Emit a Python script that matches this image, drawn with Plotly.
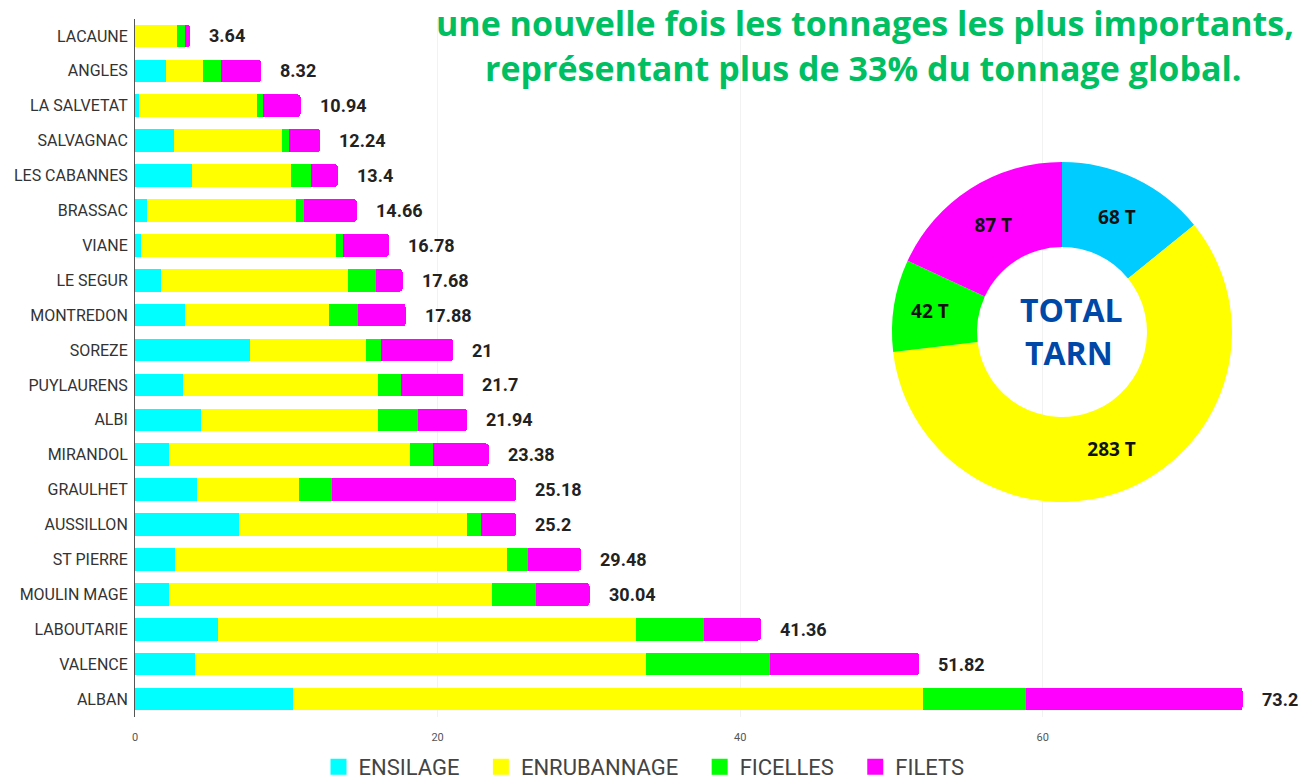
import plotly.graph_objects as go

communes = ["LACAUNE", "ANGLES", "LA SALVETAT", "SALVAGNAC", "LES CABANNES", "BRASSAC",
            "VIANE", "LE SEGUR", "MONTREDON", "SOREZE", "PUYLAURENS", "ALBI", "MIRANDOL",
            "GRAULHET", "AUSSILLON", "ST PIERRE", "MOULIN MAGE", "LABOUTARIE", "VALENCE", "ALBAN"]
ensilage = [0, 2.03, 0.29, 2.56, 3.75, 0.81, 0.42, 1.72, 3.32, 7.62, 3.19, 4.38, 2.25,
            4.08, 6.89, 2.67, 2.25, 5.47, 3.97, 10.44]
enrubannage = [2.76, 2.47, 7.76, 7.14, 6.58, 9.83, 12.89, 12.38, 9.48, 7.67, 12.85, 11.66,
               15.95, 6.77, 15.07, 21.90, 21.35, 27.62, 29.78, 41.64]
ficelles = [0.55, 1.19, 0.44, 0.50, 1.30, 0.53, 0.46, 1.83, 1.94, 0.97, 1.52, 2.69, 1.52,
            2.16, 0.89, 1.38, 2.90, 4.53, 8.20, 6.79]
filets = [0.33, 2.63, 2.45, 2.04, 1.77, 3.49, 3.01, 1.75, 3.14, 4.74, 4.14, 3.21, 3.66,
          12.17, 2.35, 3.53, 3.54, 3.74, 9.87, 14.33]
totaux = [3.64, 8.32, 10.94, 12.24, 13.4, 14.66, 16.78, 17.68, 17.88, 21, 21.7, 21.94,
          23.38, 25.18, 25.2, 29.48, 30.04, 41.36, 51.82, 73.2]
x_ticks = [0, 20, 40, 60]

types = ["ENSILAGE", "ENRUBANNAGE", "FICELLES", "FILETS"]
tonnes_tarn = [68, 283, 42, 87]

bar_colors = ["#00FFFF", "#FFFF00", "#00FF00", "#FF00FF"]
pie_colors = ["#00CCFF", "#FFFF00", "#00FF00", "#FF00FF"]

fig = go.Figure()
for name, vals, col in zip(types, [ensilage, enrubannage, ficelles, filets], bar_colors):
    fig.add_trace(go.Bar(
        y=communes, x=vals, name=name, orientation="h",
        marker=dict(color=col, line=dict(width=0)),
        hoverinfo="skip", showlegend=False, legendgroup=name,
    ))
# legend entries (larger square swatches)
for name, col in zip(types, bar_colors):
    fig.add_trace(go.Scatter(
        x=[None], y=[None], mode="markers", name=name + "\u00a0\u00a0\u00a0",
        legendgroup=name,
        marker=dict(symbol="square", size=18, color=col),
        hoverinfo="skip", showlegend=True,
    ))

fig.add_trace(go.Pie(
    labels=types, values=tonnes_tarn, hole=0.5, sort=False, direction="clockwise",
    rotation=0, marker=dict(colors=pie_colors, line=dict(width=0)),
    texttemplate="<b>%{value} T</b>", textposition="inside",
    insidetextorientation="horizontal",
    textfont=dict(family="Open Sans", size=19, color="#111111"),
    showlegend=False, hoverinfo="skip",
    domain=dict(x=[892 / 1304, 1232 / 1304], y=[1 - 502 / 782, 1 - 162 / 782]),
))

annotations = []
for c, t in zip(communes, totaux):
    annotations.append(dict(
        x=t, y=c, xref="x", yref="y", text=f"<b>{t:g}</b>", showarrow=False,
        xanchor="left", yanchor="middle", xshift=17,
        font=dict(family="Roboto", size=18, color="#222222"),
    ))

annotations += [
    dict(x=865 / 1304, y=1 - 23 / 782, xref="paper", yref="paper",
         text="<b>une nouvelle fois les tonnages les plus importants,</b>", showarrow=False,
         xanchor="center", yanchor="middle",
         font=dict(family="Open Sans", size=34, color="#00BF63")),
    dict(x=864 / 1304, y=1 - 68 / 782, xref="paper", yref="paper",
         text="<b>représentant plus de 33% du tonnage global.</b>", showarrow=False,
         xanchor="center", yanchor="middle",
         font=dict(family="Open Sans", size=34, color="#00BF63")),
    dict(x=1071 / 1304, y=1 - 309 / 782, xref="paper", yref="paper",
         text="<b>TOTAL</b>", showarrow=False, xanchor="center", yanchor="middle",
         font=dict(family="Open Sans", size=32, color="#0048A8")),
    dict(x=1069 / 1304, y=1 - 353 / 782, xref="paper", yref="paper",
         text="<b>TARN</b>", showarrow=False, xanchor="center", yanchor="middle",
         font=dict(family="Open Sans", size=32, color="#0048A8")),
]

fig.update_layout(
    width=1304, height=782,
    margin=dict(l=0, r=0, t=0, b=0, autoexpand=False),
    paper_bgcolor="white", plot_bgcolor="white",
    barmode="stack", bargap=0.35, barcornerradius=3,
    font=dict(family="Roboto", color="#333333"),
    xaxis=dict(
        domain=[135 / 1304, 1300 / 1304], range=[0, 77],
        tickvals=x_ticks, ticktext=[str(v) for v in x_ticks],
        showgrid=True, gridcolor="#F2F2F2", gridwidth=1,
        zeroline=False, showline=False,
        tickfont=dict(family="Roboto", size=11, color="#555555"),
        ticklabelstandoff=12,
        fixedrange=True,
    ),
    yaxis=dict(
        domain=[1 - 716.5 / 782, 1 - 18.5 / 782],
        categoryorder="array", categoryarray=communes, autorange="reversed",
        showline=True, linecolor="#555555", linewidth=1,
        showgrid=False, zeroline=False,
        tickfont=dict(family="Roboto", size=16, color="#333333"),
        ticklabelstandoff=3,
        fixedrange=True,
    ),
    legend=dict(
        orientation="h", x=0.5, xanchor="center", y=1 - 767 / 782, yanchor="middle",
        font=dict(family="Roboto", size=22, color="#444444"),
        traceorder="normal",
    ),
    annotations=annotations,
)

fig.write_html("out.html", config={"displayModeBar": False},
               post_script="document.body.style.margin='0';")
